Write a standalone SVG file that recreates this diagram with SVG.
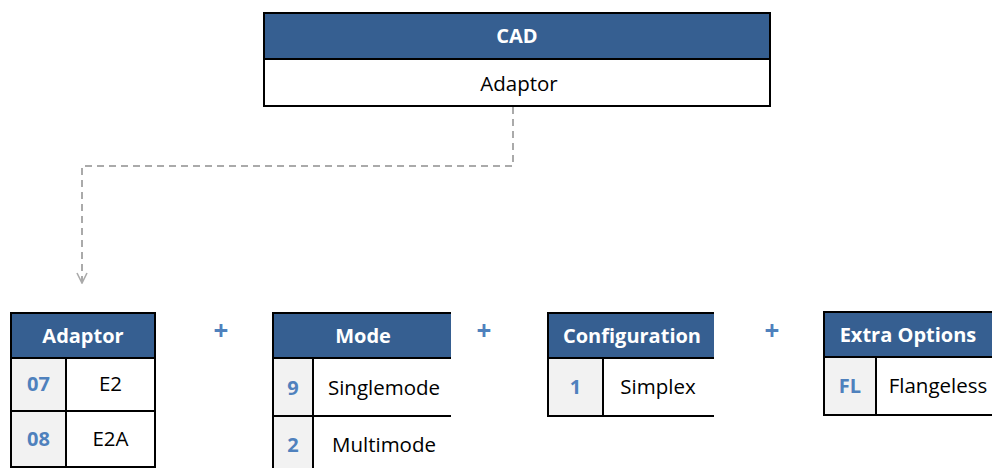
<svg xmlns="http://www.w3.org/2000/svg" width="992" height="468" viewBox="0 0 992 468">
<style>
.hdr{fill:#365f91}
.code{fill:#f2f2f2}
.val{fill:#ffffff}
.ln{stroke:#000;stroke-width:2;fill:none}
.ht{font-family:"Open Sans","DejaVu Sans",sans-serif;font-weight:bold;font-size:20px;fill:#fff;text-anchor:middle}
.ct{font-family:"Open Sans","DejaVu Sans",sans-serif;font-weight:bold;font-size:20px;fill:#4f81bd;text-anchor:middle}
.vt{font-family:"Open Sans","DejaVu Sans",sans-serif;font-size:20.5px;fill:#000;text-anchor:middle}
.plus{font-family:"Open Sans","DejaVu Sans",sans-serif;font-weight:bold;font-size:26px;fill:#4f81bd;text-anchor:middle}
.conn{stroke:#aaaaaa;stroke-width:2;fill:none;stroke-dasharray:7 5}
</style>
<defs>
<marker id="arr" viewBox="0 0 12 12" refX="11" refY="6" markerWidth="12" markerHeight="12" markerUnits="userSpaceOnUse" orient="auto">
<path d="M1,1 L11,6 L1,11" fill="none" stroke="#aaaaaa" stroke-width="1.6"/>
</marker>
</defs>

<g id="cad">
<rect class="hdr" x="264" y="13" width="506" height="46"/>
<rect class="val" x="264" y="59" width="506" height="47"/>
<rect class="ln" x="264" y="13" width="506" height="93"/>
<line class="ln" x1="264" y1="59" x2="770" y2="59"/>
<text class="ht" x="517" y="43">CAD</text>
<text class="vt" x="519" y="91">Adaptor</text>
</g>

<g id="connectors">
<path class="conn" d="M513,107 V166 H82 V283" marker-end="url(#arr)"/>
</g>

<g id="adaptor">
<rect class="hdr" x="11" y="313" width="144" height="45"/>
<rect class="code" x="11" y="358" width="55" height="109"/>
<rect class="val" x="66" y="358" width="89" height="109"/>
<path class="ln" d="M11,313 H155 V467 H11 Z M11,358 H155 M11,411 H155 M66,358 V467"/>
<text class="ht" x="83" y="343">Adaptor</text>
<text class="ct" x="38.5" y="391">07</text>
<text class="vt" x="110.5" y="391">E2</text>
<text class="ct" x="38.5" y="446">08</text>
<text class="vt" x="110.5" y="446">E2A</text>
</g>

<g id="plus1"><text class="plus" x="221" y="340">+</text></g>

<g id="mode">
<rect class="hdr" x="273" y="313" width="178" height="45"/>
<rect class="code" x="273" y="358" width="40" height="110"/>
<rect class="val" x="313" y="358" width="138" height="110"/>
<path class="ln" d="M451,313 H273 V468 M273,358 H451 M273,416 H451 M313,358 V468"/>
<text class="ht" x="363" y="343">Mode</text>
<text class="ct" x="293" y="395">9</text>
<text class="vt" x="384" y="395">Singlemode</text>
<text class="ct" x="293" y="452">2</text>
<text class="vt" x="384" y="452">Multimode</text>
</g>

<g id="plus2"><text class="plus" x="484" y="340">+</text></g>

<g id="configuration">
<rect class="hdr" x="548" y="313" width="166" height="45"/>
<rect class="code" x="548" y="358" width="55" height="58"/>
<rect class="val" x="603" y="358" width="111" height="58"/>
<path class="ln" d="M714,313 H548 V416 H714 M548,358 H714 M603,358 V416"/>
<text class="ht" x="632" y="343">Configuration</text>
<text class="ct" x="575.5" y="394">1</text>
<text class="vt" x="658" y="394">Simplex</text>
</g>

<g id="plus3"><text class="plus" x="772" y="340">+</text></g>

<g id="extra">
<rect class="hdr" x="824" y="312" width="168" height="45"/>
<rect class="code" x="824" y="357" width="52" height="58"/>
<rect class="val" x="876" y="357" width="116" height="58"/>
<path class="ln" d="M992,312 H824 V415 H992 M824,357 H992 M876,357 V415"/>
<text class="ht" x="908" y="342">Extra Options</text>
<text class="ct" x="850" y="393">FL</text>
<text class="vt" x="938" y="393">Flangeless</text>
</g>
</svg>
